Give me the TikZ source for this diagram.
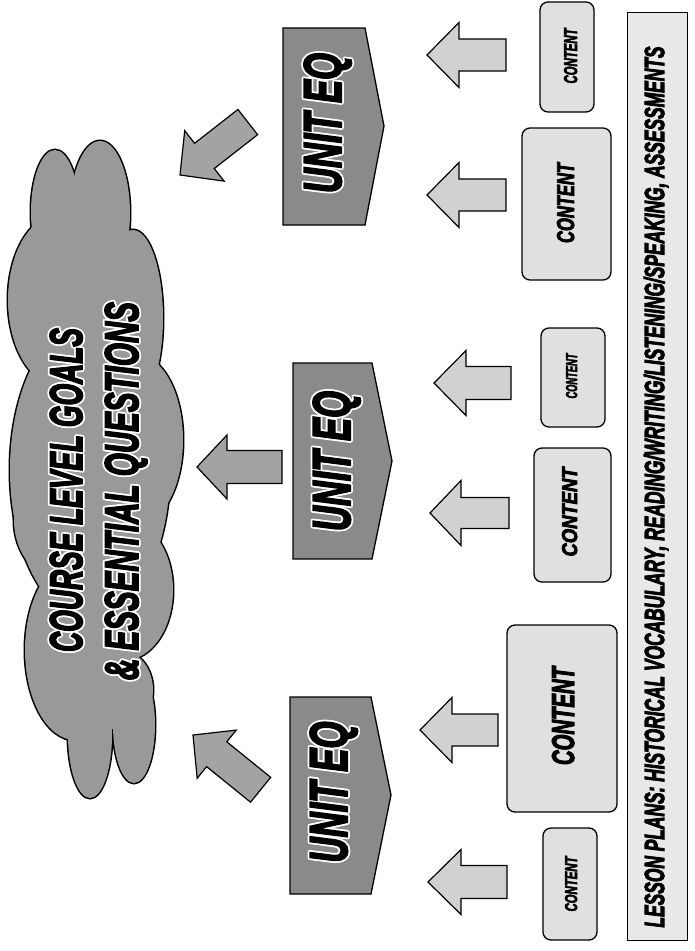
\documentclass[tikz,border=0pt]{standalone}
\usepackage{fontspec}
\usepackage{graphicx}
\newfontfamily\hfont{Liberation Sans}[BoldItalicFeatures={FakeBold=4}]
\definecolor{unitgray}{gray}{0.54}
\definecolor{cloudgray}{gray}{0.60}
\definecolor{darrowgray}{gray}{0.64}
\definecolor{carrowgray}{gray}{0.82}
\definecolor{cboxgray}{gray}{0.88}
\definecolor{bargray}{gray}{0.91}
\newcommand\fitt[3]{\resizebox{#1pt}{#2pt}{\hfont\bfseries\itshape #3}}
\newcommand\halo[1]{%
  \setbox0=\hbox{#1}%
  \rlap{\color{white}\kern1.8pt\copy0}%
  \rlap{\color{white}\kern-1.8pt\copy0}%
  \rlap{\color{white}\raisebox{1.8pt}{\copy0}}%
  \rlap{\color{white}\raisebox{-1.8pt}{\copy0}}%
  \rlap{\color{white}\kern1.3pt\raisebox{1.3pt}{\copy0}}%
  \rlap{\color{white}\kern-1.3pt\raisebox{1.3pt}{\copy0}}%
  \rlap{\color{white}\kern1.3pt\raisebox{-1.3pt}{\copy0}}%
  \rlap{\color{white}\kern-1.3pt\raisebox{-1.3pt}{\copy0}}%
  \box0}
\tikzset{
  darkarrow/.style={draw=black, line width=1.2pt, fill=darrowgray, line join=miter},
  lightarrow/.style={draw=black, line width=1.2pt, fill=carrowgray, line join=miter},
  pics/barrow/.style args={#1/#2/#3/#4/#5}{code={
    \path[#5] (0,0) -- (#2,#4) -- (#2,#3) -- (#1,#3) -- (#1,-#3) -- (#2,-#3) -- (#2,-#4) -- cycle;}},
  unitbox/.style={draw=black, line width=1.3pt, fill=unitgray, line join=miter},
  cbox/.style={draw=black, line width=1.3pt, fill=cboxgray, rounded corners=8pt, inner sep=0pt},
  barbox/.style={draw=black, line width=1pt, fill=bargray, inner sep=0pt},
  vtxt/.style={inner sep=0pt, anchor=base, rotate=90}
}
\begin{document}
\begin{tikzpicture}[x=1pt,y=-1pt]
\useasboundingbox (0,0) rectangle (694,951);

% cloud
\def\cloudlobes{55/212/24/62, 100/213/30/72, 58/300/50/85, 133/318/30/88, 137/440/46/85,
  90/470/80/150, 62/520/48/60, 75/650/50/90, 125/590/48/70, 90/735/22/63, 134/725/21/58, 120/690/33/40}
\foreach \cx/\cy/\rx/\ry in \cloudlobes
  \draw[line width=3pt] (\cx,\cy) ellipse [x radius=\rx, y radius=\ry];
\foreach \cx/\cy/\rx/\ry in \cloudlobes
  \fill[cloudgray] (\cx,\cy) ellipse [x radius=\rx, y radius=\ry];
\node[vtxt] (goal1) at (82,490) {\halo{\fitt{324}{32}{COURSE LEVEL GOALS}}};
\node[vtxt] (goal2) at (138,491) {\halo{\fitt{378}{33}{\& ESSENTIAL QUESTIONS}}};

% unit EQ boxes
\draw[unitbox] (283,28) -- (365,28) -- (384,126) -- (365,225) -- (283,225) -- cycle;
\draw[unitbox] (293,363) -- (372,363) -- (392,461) -- (372,559) -- (293,559) -- cycle;
\draw[unitbox] (290,697) -- (371,697) -- (391,795) -- (371,894) -- (290,894) -- cycle;
\node[vtxt] (u1) at (341,123) {\halo{\fitt{140}{37}{UNIT EQ}}};
\node[vtxt] (u2) at (350,461) {\halo{\fitt{140}{37}{UNIT EQ}}};
\node[vtxt] (u3) at (347,792) {\halo{\fitt{141}{37}{UNIT EQ}}};

% arrows to cloud
\pic[rotate=38] at (180,175) {barrow=86/31/16/32/darkarrow};
\pic at (197,467) {barrow=85/30/16.5/32/darkarrow};
\pic[rotate=-39] at (193,735) {barrow=87/30.5/16/31/darkarrow};

% arrows from content
\pic at (427,55) {barrow=79/32/16/32.5/lightarrow};
\pic at (427,195) {barrow=79/32/16/32.5/lightarrow};
\pic at (434,383) {barrow=77/32/16.5/32.5/lightarrow};
\pic at (430,513) {barrow=79/31/15.5/32.5/lightarrow};
\pic at (420,730) {barrow=78/32/16/32.5/lightarrow};
\pic at (428,882) {barrow=79/33/16.5/32.5/lightarrow};

% content boxes
\node[cbox, minimum width=54pt, minimum height=110pt] (c1) at (567,57) {};
\node[cbox, minimum width=89pt, minimum height=152pt] (c2) at (566.5,204) {};
\node[cbox, minimum width=64pt, minimum height=99pt] (c3) at (573,377.5) {};
\node[cbox, minimum width=77pt, minimum height=134pt] (c4) at (572.5,515) {};
\node[cbox, minimum width=110pt, minimum height=187pt] (c5) at (562,718.5) {};
\node[cbox, minimum width=54pt, minimum height=112pt] (c6) at (570,884) {};
\node[vtxt] (c1t) at (577,56) {\fitt{55}{13}{CONTENT}};
\node[vtxt] (c2t) at (574,203) {\fitt{80}{17}{CONTENT}};
\node[vtxt] (c3t) at (577,376) {\fitt{45}{11}{CONTENT}};
\node[vtxt] (c4t) at (577,512) {\fitt{89}{15}{CONTENT}};
\node[vtxt] (c5t) at (574,716) {\fitt{98}{22}{CONTENT}};
\node[vtxt] (c6t) at (577,884) {\fitt{55}{12}{CONTENT}};

% lesson plans bar
\node[barbox, minimum width=60pt, minimum height=928pt] (bar) at (657,476) {};
\node[vtxt] (bart) at (664,487) {\fitt{881}{20}{LESSON PLANS: HISTORICAL VOCABULARY, READING/WRITING/LISTENING/SPEAKING, ASSESSMENTS}};
\end{tikzpicture}
\end{document}
